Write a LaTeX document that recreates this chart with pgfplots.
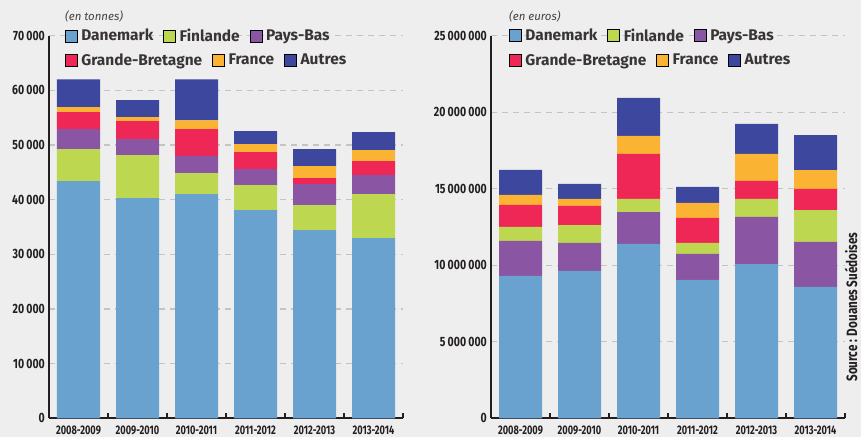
\documentclass[border=0pt]{standalone}
\usepackage{pgfplots}
\pgfplotsset{compat=1.18}
\usepackage{pgfplotstable}
\usepackage{fontspec}
\setmainfont{Fira Sans}
\newfontfamily\cond[FakeStretch=0.78]{Fira Sans}
\newfontfamily\condx[FakeStretch=0.74]{Fira Sans}

\definecolor{dan}{HTML}{6AA2CF}
\definecolor{fin}{HTML}{BDD751}
\definecolor{pb}{HTML}{8A55A3}
\definecolor{gb}{HTML}{EE2757}
\definecolor{fr}{HTML}{FBB334}
\definecolor{aut}{HTML}{3C479D}
\definecolor{bg}{HTML}{EEEEEE}
\definecolor{gridc}{HTML}{C4C4C4}
\definecolor{ink}{HTML}{231F20}

\pgfplotstableread{
x dan fin pb gb fr aut
0 43380 5850 3660 3110 910 5120
1 40270 7870 2920 3290 730 3110
2 41000 3840 3170 4880 1640 7500
3 38080 4570 2930 3100 1470 2370
4 34420 4570 3840 1100 2190 3110
5 32960 8040 3480 2560 2010 3290
}\tonnes

\pgfplotstableread{
x dan pb fin gb fr aut
0 9300000 2290000 910000 1450000 650000 1630000
1 9630000 1830000 1170000 1250000 450000 980000
2 11390000 2090000 850000 2940000 1180000 2490000
3 9040000 1700000 720000 1630000 980000 1050000
4 10080000 3080000 1170000 1180000 1760000 1970000
5 8580000 2940000 2090000 1380000 1230000 2290000
}\euros

\pgfplotsset{
  legstyle/.style={
    legend image code/.code={\fill[##1] (0bp,-6bp) rectangle (12bp,6bp);},
    legend style={draw=none, fill=none, inner sep=0pt, outer sep=0pt, anchor=west,
      legend columns=-1,
      font=\bfseries\fontsize{15.5}{16}\selectfont, text=ink!90,
      nodes={inner sep=0pt},
      /tikz/every odd column/.append style={column sep=4bp},
      /tikz/every even column/.append style={column sep=10bp}},
  },
  panel/.style={
    anchor=south west,
    scale only axis, width=354bp, height=382.6bp,
    xmin=-0.5, xmax=5.5, ymin=0,
    ybar stacked, bar width=43bp,
    axis x line*=bottom, axis y line*=left,
    axis line style={line width=2.3bp, ink, -},
    tick align=inside,
    scaled y ticks=false,
    xtick={0.5,1.5,2.5,3.5,4.5,5.5}, xticklabels={},
    xtick style={draw=ink, line width=1.6bp},
    major tick length=5bp,
    extra x ticks={0,1,2,3,4,5},
    extra x tick labels={2008-2009,2009-2010,2010-2011,2011-2012,2012-2013,2013-2014},
    extra x tick style={major tick length=0pt, grid=none},
    x tick label style={font=\condx\bfseries\fontsize{12.5}{12.5}\selectfont, inner sep=0pt, anchor=north, yshift=-7bp, text=ink},
    ytick style={draw=none},
    y tick label style={font=\cond\bfseries\fontsize{13.5}{13.5}\selectfont, inner sep=0pt, anchor=east, xshift=-4bp, text=ink},
    ymajorgrids,
    grid style={gridc, line width=1.3bp, dash pattern=on 6bp off 5bp},
    legstyle,
  },
  hidden/.style={
    anchor=south west,
    scale only axis, width=354bp, height=382.6bp,
    xmin=0, xmax=1, ymin=0, ymax=1, hide axis,
    legstyle,
  }
}

\begin{document}
\begin{tikzpicture}
\useasboundingbox (0,0) rectangle (861bp,437bp);
\fill[bg] (0,0) rectangle (861bp,437bp);

% ---------- left panel : tonnes ----------
\begin{axis}[panel, at={(49bp,18.7bp)}, ymax=70000,
  ytick={0,10000,20000,30000,40000,50000,60000,70000},
  yticklabels={0,10\,000,20\,000,30\,000,40\,000,50\,000,60\,000,70\,000},
  legend style={at={(0.045,1.0)}}]
\addlegendimage{fill=dan}
\addlegendimage{fill=fin}
\addlegendimage{fill=pb}
\addplot[fill=dan, draw=none] table[x=x, y=dan]{\tonnes};
\addplot[fill=fin, draw=none] table[x=x, y=fin]{\tonnes};
\addplot[fill=pb,  draw=none] table[x=x, y=pb]{\tonnes};
\addplot[fill=gb,  draw=none] table[x=x, y=gb]{\tonnes};
\addplot[fill=fr,  draw=none] table[x=x, y=fr]{\tonnes};
\addplot[fill=aut, draw=none] table[x=x, y=aut]{\tonnes};
\legend{Danemark,Finlande,Pays-Bas}
\end{axis}
\begin{axis}[hidden, at={(49bp,18.7bp)}, legend style={at={(0.045,0.9365)}}]
\addlegendimage{fill=gb}
\addlegendimage{fill=fr}
\addlegendimage{fill=aut}
\legend{Grande-Bretagne,France,Autres}
\end{axis}

% ---------- right panel : euros ----------
\begin{axis}[panel, at={(491bp,18.7bp)}, ymax=25000000,
  ytick={0,5000000,10000000,15000000,20000000,25000000},
  yticklabels={0,5\,000\,000,10\,000\,000,15\,000\,000,20\,000\,000,25\,000\,000},
  legend style={at={(0.051,1.0)}}]
\addlegendimage{fill=dan}
\addlegendimage{fill=fin}
\addlegendimage{fill=pb}
\addplot[fill=dan, draw=none] table[x=x, y=dan]{\euros};
\addplot[fill=pb,  draw=none] table[x=x, y=pb]{\euros};
\addplot[fill=fin, draw=none] table[x=x, y=fin]{\euros};
\addplot[fill=gb,  draw=none] table[x=x, y=gb]{\euros};
\addplot[fill=fr,  draw=none] table[x=x, y=fr]{\euros};
\addplot[fill=aut, draw=none] table[x=x, y=aut]{\euros};
\legend{Danemark,Finlande,Pays-Bas}
\end{axis}
\begin{axis}[hidden, at={(491bp,18.7bp)}, legend style={at={(0.051,0.9365)}}]
\addlegendimage{fill=gb}
\addlegendimage{fill=fr}
\addlegendimage{fill=aut}
\legend{Grande-Bretagne,France,Autres}
\end{axis}

% ---------- unit notes and source ----------
\node[anchor=west, inner sep=0pt, font=\itshape\fontsize{11.5}{12}\selectfont, text=ink!85] at (65bp,421bp) {(en tonnes)};
\node[anchor=west, inner sep=0pt, font=\itshape\fontsize{11.5}{12}\selectfont, text=ink!85] at (509bp,421bp) {(en euros)};
\node[rotate=90, inner sep=0pt, font=\cond\bfseries\fontsize{15}{15}\selectfont, text=ink] at (851bp,130bp) {Source : Douanes Suédoises};
\end{tikzpicture}
\end{document}
